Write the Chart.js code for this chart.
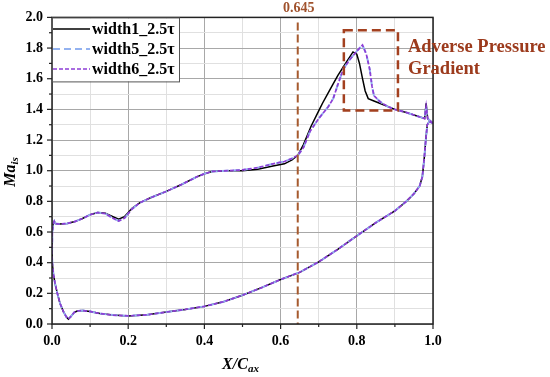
<!DOCTYPE html>
<html><head><meta charset="utf-8">
<script src="https://cdn.jsdelivr.net/npm/chart.js@4.4.0/dist/chart.umd.min.js"></script>
<style>html,body{margin:0;padding:0;background:#fff;}#wrap{width:550px;height:377px;}</style>
</head><body><div id="wrap"><canvas id="c" width="550" height="377"></canvas></div>
<script>
// ---------- data ----------
const seriesNames = ['width1_2.5τ', 'width5_2.5τ', 'width6_2.5τ'];

// suction side, leading edge -> trailing edge  [X/Cax, Ma_is]
const width1Suction = [
  [0.000,0.45],[0.001,0.60],[0.003,0.65],[0.006,0.67],[0.009,0.655],[0.02,0.652],[0.04,0.656],
  [0.06,0.668],[0.08,0.688],[0.10,0.713],[0.12,0.727],[0.14,0.722],[0.16,0.700],[0.175,0.684],
  [0.19,0.700],[0.21,0.755],[0.23,0.790],[0.26,0.825],[0.30,0.865],[0.34,0.910],[0.38,0.960],
  [0.40,0.980],[0.42,0.995],[0.46,1.000],[0.50,1.000],[0.54,1.010],[0.58,1.030],[0.61,1.045],
  [0.63,1.070],[0.645,1.100],[0.66,1.170],[0.68,1.290],[0.70,1.390],[0.71,1.440],[0.73,1.530],
  [0.75,1.620],[0.773,1.710],[0.79,1.775],[0.80,1.760],[0.807,1.700],[0.815,1.600],[0.822,1.520],
  [0.83,1.470],[0.845,1.455],[0.87,1.430],[0.90,1.400],[0.93,1.380],[0.96,1.355],[0.978,1.340],
  [0.982,1.440],[0.986,1.340],[0.995,1.320],[1.000,1.310]
];
// pressure side, leading edge -> trailing edge
const width1Pressure = [
  [0.000,0.45],[0.001,0.39],[0.004,0.32],[0.008,0.265],[0.014,0.20],[0.021,0.135],[0.03,0.08],
  [0.038,0.045],[0.043,0.032],[0.05,0.05],[0.058,0.075],[0.066,0.085],[0.08,0.088],[0.10,0.082],
  [0.126,0.068],[0.16,0.058],[0.20,0.053],[0.25,0.060],[0.30,0.078],[0.35,0.095],[0.40,0.115],
  [0.45,0.145],[0.50,0.188],[0.55,0.237],[0.60,0.290],[0.65,0.337],[0.70,0.405],[0.75,0.487],
  [0.80,0.575],[0.85,0.661],[0.90,0.738],[0.93,0.800],[0.95,0.850],[0.965,0.900],[0.972,0.960],
  [0.977,1.080],[0.981,1.200],[0.985,1.300],[0.99,1.320],[1.000,1.310]
];
const width5Suction = [
  [0.000,0.45],[0.001,0.60],[0.003,0.65],[0.006,0.67],[0.009,0.655],[0.02,0.652],[0.04,0.656],
  [0.06,0.668],[0.08,0.688],[0.10,0.713],[0.12,0.727],[0.14,0.720],[0.16,0.690],[0.175,0.672],
  [0.19,0.690],[0.21,0.750],[0.23,0.790],[0.26,0.825],[0.30,0.865],[0.34,0.910],[0.38,0.960],
  [0.40,0.980],[0.42,0.995],[0.46,1.000],[0.50,1.005],[0.54,1.020],[0.58,1.045],[0.61,1.060],
  [0.63,1.080],[0.645,1.100],[0.66,1.150],[0.677,1.256],[0.70,1.340],[0.725,1.417],[0.738,1.470],
  [0.75,1.560],[0.764,1.660],[0.78,1.720],[0.79,1.750],[0.80,1.780],[0.815,1.820],[0.825,1.760],
  [0.834,1.660],[0.84,1.550],[0.845,1.490],[0.861,1.450],[0.88,1.420],[0.90,1.400],[0.93,1.380],
  [0.96,1.355],[0.978,1.340],[0.982,1.420],[0.986,1.340],[0.995,1.320],[1.000,1.310]
];
const width5Pressure = width1Pressure;
const width6Suction = width5Suction;
const width6Pressure = width1Pressure;

const xTicks = [0.0, 0.2, 0.4, 0.6, 0.8, 1.0];
const yTicks = [0.0, 0.2, 0.4, 0.6, 0.8, 1.0, 1.2, 1.4, 1.6, 1.8, 2.0];
const markerX = [0.645];
const adverseBoxX = [0.766, 0.908];
const adverseBoxY = [1.392, 1.916];

// ---------- helpers ----------
function loop(pressure, suction) {
  const pts = [];
  for (let i = pressure.length - 1; i >= 0; i--) pts.push({x: pressure[i][0], y: pressure[i][1]});
  for (let i = 1; i < suction.length; i++) pts.push({x: suction[i][0], y: suction[i][1]});
  return pts;
}
const SERIF = '"Liberation Serif", "Times New Roman", serif';
const styles = [
  {color: '#000000', width: 1.5, dash: [], order: 3},
  {color: '#93b2f0', width: 2.0, dash: [7, 4], order: 2},
  {color: '#8d3ed6', width: 1.7, dash: [4, 2], order: 1}
];
const isMajor = v => Math.round(v * 10) % 2 === 0;

const decor = {
  id: 'decor',
  afterDatasetsDraw(chart) {
    const {ctx, chartArea: a, scales: {x, y}} = chart;
    ctx.save();
    // vertical marker line
    const mx = x.getPixelForValue(markerX[0]);
    ctx.strokeStyle = '#a65a2e'; ctx.lineWidth = 2; ctx.setLineDash([8, 4]);
    ctx.beginPath(); ctx.moveTo(mx, a.top + 5); ctx.lineTo(mx, a.bottom); ctx.stroke();
    // adverse pressure box
    ctx.strokeStyle = '#a3401f'; ctx.lineWidth = 2.5; ctx.setLineDash([9, 5]);
    const bx0 = x.getPixelForValue(adverseBoxX[0]), bx1 = x.getPixelForValue(adverseBoxX[1]);
    const by0 = y.getPixelForValue(adverseBoxY[1]), by1 = y.getPixelForValue(adverseBoxY[0]);
    ctx.strokeRect(bx0, by0, bx1 - bx0, by1 - by0);
    ctx.setLineDash([]);
    // frame
    ctx.strokeStyle = '#222'; ctx.lineWidth = 1.5;
    ctx.strokeRect(a.left, a.top, a.right - a.left, a.bottom - a.top);
    // ticks
    ctx.lineWidth = 1.2; ctx.strokeStyle = '#222';
    x.ticks.forEach(t => {
      const p = x.getPixelForValue(t.value), L = isMajor(t.value) ? 5 : 3;
      ctx.beginPath(); ctx.moveTo(p, a.bottom); ctx.lineTo(p, a.bottom + L); ctx.stroke();
    });
    y.ticks.forEach(t => {
      const p = y.getPixelForValue(t.value), L = isMajor(t.value) ? 5 : 3;
      ctx.beginPath(); ctx.moveTo(a.left, p); ctx.lineTo(a.left - L, p); ctx.stroke();
    });
    // texts
    ctx.fillStyle = '#a0522d'; ctx.font = 'bold 14px ' + SERIF;
    ctx.textAlign = 'center'; ctx.textBaseline = 'middle';
    ctx.fillText('0.645', mx + 1, 8);
    ctx.fillStyle = '#9c3a1c'; ctx.font = 'bold 18.5px ' + SERIF; ctx.textAlign = 'left';
    ctx.fillText('Adverse Pressure', 408, 47);
    ctx.fillText('Gradient', 408, 69);
    // legend
    ctx.fillStyle = '#fff'; ctx.fillRect(a.left + 1, a.top + 1, 126, 63);
    ctx.strokeStyle = '#555'; ctx.lineWidth = 1;
    ctx.strokeRect(a.left + 0.5, a.top + 0.5, 127, 64);
    ctx.font = 'bold 16px ' + SERIF; ctx.textBaseline = 'middle'; ctx.textAlign = 'left';
    const rows = [29, 49, 69];
    seriesNames.forEach((n, i) => {
      const s = styles[i];
      ctx.strokeStyle = s.color; ctx.lineWidth = s.width; ctx.setLineDash(s.dash);
      ctx.beginPath(); ctx.moveTo(53, rows[i]); ctx.lineTo(90, rows[i]); ctx.stroke();
      ctx.setLineDash([]);
      ctx.fillStyle = '#000'; ctx.fillText(n, 92, rows[i] + 1);
    });
    // axis titles
    ctx.fillStyle = '#000'; ctx.textBaseline = 'alphabetic'; ctx.textAlign = 'left';
    const big = 'bold italic 16px ' + SERIF, small = 'bold italic 11px ' + SERIF;
    ctx.font = big; const w1 = ctx.measureText('X/C').width;
    ctx.font = small; const w2 = ctx.measureText('ax').width;
    let sx = (a.left + a.right) / 2 - (w1 + w2) / 2 - 2;
    ctx.font = big; ctx.fillText('X/C', sx, 369);
    ctx.font = small; ctx.fillText('ax', sx + w1, 372);
    ctx.save();
    ctx.translate(15, 172); ctx.rotate(-Math.PI / 2);
    ctx.font = big; const m1 = ctx.measureText('Ma').width;
    ctx.font = small; const m2 = ctx.measureText('is').width;
    let sy = -(m1 + m2) / 2;
    ctx.font = big; ctx.fillText('Ma', sy, 0);
    ctx.font = small; ctx.fillText('is', sy + m1, 3);
    ctx.restore();
    ctx.restore();
  }
};

const datasets = [
  [width1Pressure, width1Suction],
  [width5Pressure, width5Suction],
  [width6Pressure, width6Suction]
].map((d, i) => ({
  label: seriesNames[i],
  data: loop(d[0], d[1]), order: styles[i].order,
  showLine: true, pointRadius: 0, borderColor: styles[i].color,
  borderWidth: styles[i].width, borderDash: styles[i].dash, tension: 0, fill: false
}));

new Chart(document.getElementById('c'), {
  type: 'scatter',
  data: {datasets},
  options: {
    responsive: false, animation: false, devicePixelRatio: 1,
    layout: {padding: {left: 0, right: 117, top: 15, bottom: 0}},
    plugins: {legend: {display: false}, tooltip: {enabled: false}},
    scales: {
      x: {
        type: 'linear', min: 0, max: 1,
        afterFit: s => { s.height = 53; },
        grid: {drawTicks: false, color: c => (c.tick && isMajor(c.tick.value)) ? '#a8a8a8' : '#e0e0e0', lineWidth: 1},
        border: {display: false},
        ticks: {stepSize: 0.1, autoSkip: false, maxRotation: 0, padding: 9, color: '#000',
          font: {family: SERIF, weight: 'bold', size: 14},
          callback: v => xTicks.some(t => Math.abs(t - v) < 1e-6) ? v.toFixed(1) : ''}
      },
      y: {
        type: 'linear', min: 0, max: 2,
        afterFit: s => { s.width = 52; },
        grid: {drawTicks: false, color: c => (c.tick && isMajor(c.tick.value)) ? '#a8a8a8' : '#e0e0e0', lineWidth: 1},
        border: {display: false},
        ticks: {stepSize: 0.1, autoSkip: false, padding: 9, color: '#000',
          font: {family: SERIF, weight: 'bold', size: 14},
          callback: v => yTicks.some(t => Math.abs(t - v) < 1e-6) ? v.toFixed(1) : ''}
      }
    }
  },
  plugins: [decor]
});
</script></body></html>
